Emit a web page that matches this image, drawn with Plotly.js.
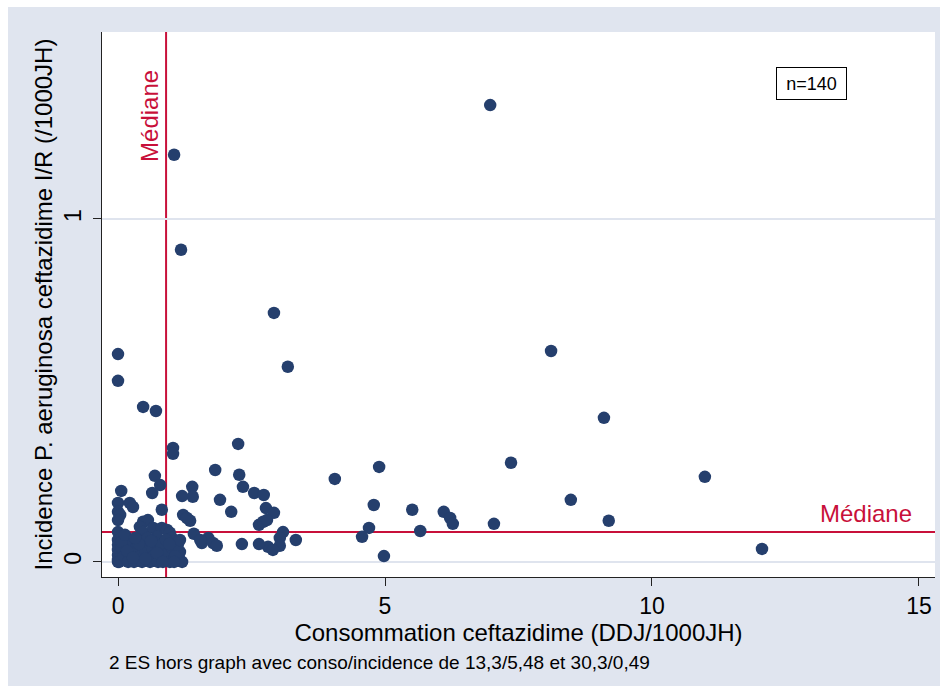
<!DOCTYPE html>
<html>
<head>
<meta charset="utf-8">
<script src="https://cdn.plot.ly/plotly-3.0.1.min.js"></script>
<style>
  html, body { margin: 0; padding: 0; background: #ffffff; }
  #chart { position: absolute; left: 8px; top: 7px; width: 932px; height: 679px; }
</style>
</head>
<body>
<div id="chart"></div>
<script>
// Consommation de ceftazidime (DDJ/1000JH) par établissement
const consoX = [
  6.97, 1.05, 1.18, 2.92, 3.18, 0.00, 0.00, 8.11, 9.10, 0.47,
  0.71, 1.03, 1.03, 2.25, 7.36, 4.89, 4.06, 10.99, 8.48, 9.19,
  12.06, 7.04, 4.98, 4.79, 4.70, 4.57, 5.51, 5.66, 6.10, 6.22,
  6.27, 1.82, 2.27, 2.34, 2.55, 2.73, 1.91, 2.12, 2.77, 2.92,
  2.64, 2.72, 2.79, 3.09, 3.03, 3.03, 2.81, 2.90, 2.64, 2.32,
  3.33, 1.39, 1.40, 1.20, 1.22, 1.35, 1.42, 1.57, 1.69, 1.78,
  1.85, 1.54, 0.69, 0.79, 0.64, 0.06, 0.00, 0.22, 0.28, 0.00,
  0.04, 0.00, 0.82, 1.29, 0.47, 0.56, 0.41, 0.47, 0.00, 0.66,
  0.82, 0.92, 0.97, 0.73, 1.01, 1.03, 1.10, 1.16, 1.20, 1.16,
  0.00, 0.00, 0.00, 0.00, 0.00, 0.00, 0.02, 0.07, 0.11, 0.15,
  0.19, 0.22, 0.26, 0.30, 0.34, 0.37, 0.41, 0.45, 0.49, 0.52,
  0.56, 0.60, 0.64, 0.67, 0.71, 0.75, 0.79, 0.82, 0.86, 0.90,
  0.94, 0.97, 1.01, 1.07, 1.12, 1.16, 0.07, 0.17, 0.28, 0.39,
  0.51, 0.62, 0.73, 0.84, 0.96, 1.05, 0.13, 0.32
];

// Incidence P. aeruginosa ceftazidime I/R (/1000JH), même ordre
const incidenceY = [
  1.332, 1.187, 0.910, 0.726, 0.569, 0.606, 0.528, 0.615, 0.420, 0.452,
  0.440, 0.332, 0.315, 0.344, 0.289, 0.277, 0.242, 0.248, 0.181, 0.120,
  0.038, 0.111, 0.017, 0.166, 0.099, 0.073, 0.152, 0.090, 0.146, 0.128,
  0.111, 0.268, 0.254, 0.219, 0.201, 0.195, 0.181, 0.146, 0.157, 0.143,
  0.108, 0.117, 0.122, 0.087, 0.070, 0.047, 0.044, 0.035, 0.052, 0.052,
  0.064, 0.219, 0.190, 0.192, 0.137, 0.120, 0.082, 0.055, 0.070, 0.055,
  0.047, 0.064, 0.251, 0.224, 0.201, 0.207, 0.172, 0.172, 0.160, 0.146,
  0.137, 0.122, 0.152, 0.128, 0.117, 0.122, 0.102, 0.087, 0.087, 0.099,
  0.099, 0.093, 0.085, 0.073, 0.070, 0.050, 0.029, 0.006, 0.000, 0.029,
  0.064, 0.050, 0.035, 0.020, 0.006, 0.000, 0.000, 0.041, 0.017, 0.064,
  0.000, 0.050, 0.026, 0.000, 0.041, 0.064, 0.015, 0.000, 0.050, 0.029,
  0.070, 0.000, 0.041, 0.017, 0.055, 0.000, 0.035, 0.050, 0.012, 0.064,
  0.026, 0.000, 0.041, 0.017, 0.050, 0.064, 0.058, 0.032, 0.012, 0.052,
  0.009, 0.061, 0.026, 0.000, 0.052, 0.000, 0.079, 0.070
];

// Médianes des deux variables
const medianeConso = 0.90;
const medianeIncidence = 0.0875;

const xTicks = [0, 5, 10, 15];
const yTicks = [0, 1];

const navy = '#253f6d';
const crimson = '#c8103a';
const font = 'Liberation Sans, Arial, Helvetica, sans-serif';

const trace = {
  type: 'scatter',
  mode: 'markers',
  x: consoX,
  y: incidenceY,
  marker: { color: navy, size: 12.5, line: { width: 0 } },
  hoverinfo: 'x+y',
  showlegend: false
};

const layout = {
  width: 932,
  height: 679,
  margin: { l: 94, r: 5, t: 25, b: 109 },
  paper_bgcolor: '#e0e5ef',
  plot_bgcolor: '#ffffff',
  font: { family: font, color: '#000000', size: 23 },
  showlegend: false,
  xaxis: {
    range: [-0.30, 15.30],
    tickvals: xTicks,
    ticktext: xTicks.map(String),
    ticks: 'outside',
    ticklen: 8,
    tickcolor: '#222222',
    showgrid: false,
    zeroline: false,
    showline: true,
    linecolor: '#222222',
    linewidth: 1,
    tickfont: { size: 23 },
    title: { text: 'Consommation ceftazidime (DDJ/1000JH)', font: { size: 24 }, standoff: 2 }
  },
  yaxis: {
    range: [-0.044, 1.545],
    tickvals: yTicks,
    ticktext: yTicks.map(String),
    tickangle: -90,
    ticks: 'outside',
    ticklen: 8,
    tickcolor: '#222222',
    ticklabelstandoff: 3,
    showgrid: true,
    gridcolor: '#dfe4ee',
    gridwidth: 1.5,
    zeroline: false,
    showline: true,
    linecolor: '#222222',
    linewidth: 1,
    tickfont: { size: 23 },
    title: { text: 'Incidence P. aeruginosa ceftazidime I/R (/1000JH)', font: { size: 24 }, standoff: 0 }
  },
  shapes: [
    {
      type: 'line', xref: 'x', yref: 'paper',
      x0: medianeConso, x1: medianeConso, y0: 0, y1: 1,
      line: { color: crimson, width: 2 }, layer: 'below'
    },
    {
      type: 'line', xref: 'paper', yref: 'y',
      x0: 0, x1: 1, y0: medianeIncidence, y1: medianeIncidence,
      line: { color: crimson, width: 2 }, layer: 'below'
    }
  ],
  annotations: [
    {
      text: 'Médiane', xref: 'paper', yref: 'paper',
      x: 0.0576, y: 0.846, xanchor: 'center', yanchor: 'middle',
      textangle: -90, showarrow: false,
      font: { size: 24, color: crimson }
    },
    {
      text: 'Médiane', xref: 'paper', yref: 'paper',
      x: 0.917, y: 0.117, xanchor: 'center', yanchor: 'middle',
      showarrow: false,
      font: { size: 24, color: crimson }
    },
    {
      text: 'n=140', xref: 'paper', yref: 'paper',
      x: 0.852, y: 0.905, xanchor: 'center', yanchor: 'middle',
      showarrow: false, width: 69, height: 31,
      bgcolor: '#ffffff', bordercolor: '#000000', borderwidth: 1, borderpad: 0,
      font: { size: 18, color: '#000000' }
    },
    {
      text: '2 ES hors graph avec conso/incidence de 13,3/5,48 et 30,3/0,49',
      xref: 'paper', yref: 'paper',
      x: 0.006, y: -0.156, xanchor: 'left', yanchor: 'middle',
      showarrow: false,
      font: { size: 19, color: '#000000' }
    }
  ]
};

Plotly.newPlot('chart', [trace], layout, { displayModeBar: false, staticPlot: true });
</script>
</body>
</html>
